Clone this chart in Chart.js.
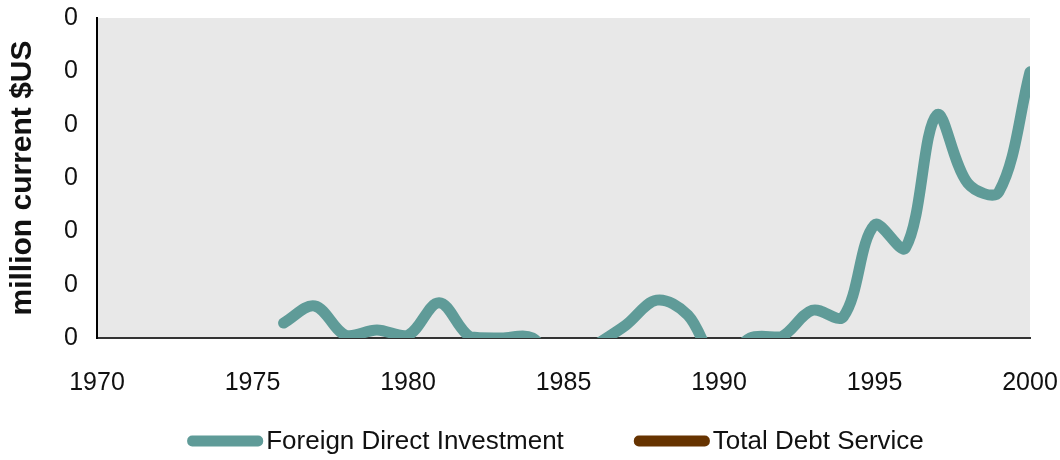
<!DOCTYPE html>
<html>
<head>
<meta charset="utf-8">
<script src="https://cdn.jsdelivr.net/npm/chart.js@4.4.0/dist/chart.umd.min.js"></script>
<style>
  body { margin: 0; background: #fff; }
  #wrap { width: 1060px; height: 460px; }
</style>
</head>
<body>
<div id="wrap"><canvas id="fdiChart" width="1060" height="460"></canvas></div>
<script>
// datos
const years = [1970, 1971, 1972, 1973, 1974, 1975, 1976, 1977, 1978, 1979, 1980,
    1981, 1982, 1983, 1984, 1985, 1986, 1987, 1988, 1989, 1990,
    1991, 1992, 1993, 1994, 1995, 1996, 1997, 1998, 1999, 2000];
const fdiValues = [null, null, null, null, null, null, 0.28, 0.6, 0.05, 0.15, 0.05,
    0.66, 0.02, 0.0, 0.0, -0.6, -0.15, 0.24, 0.71, 0.43, -0.5,
    0.0, 0.02, 0.52, 0.4, 2.12, 1.69, 4.18, 2.9, 2.74, 4.99];
const debtValues = years.map(function() { return null; });
const seriesNames = ['Foreign Direct Investment', 'Total Debt Service'];
const xTicks = [1970, 1975, 1980, 1985, 1990, 1995, 2000];
const yTickLabel = '0';

function toPoints(values) {
    return years.map(function(year, i) { return { x: year, y: values[i] }; });
}

Chart.defaults.font.family = '"Liberation Sans", Arial, sans-serif';
Chart.defaults.color = '#111';

// fondo gris del area del grafico
const plotBackground = {
    id: 'plotBackground',
    beforeDraw: function(chart) {
        const area = chart.chartArea;
        const ctx = chart.ctx;
        ctx.save();
        ctx.fillStyle = '#E8E8E8';
        ctx.fillRect(area.left, area.top, area.right - area.left, area.bottom - area.top);
        ctx.restore();
    }
};

// leyenda abajo, dibujada a mano para controlar los espacios
const bottomLegend = {
    id: 'bottomLegend',
    afterDraw: function(chart) {
        const ctx = chart.ctx;
        const area = chart.chartArea;
        const sets = chart.data.datasets;
        const swatchW = 76, swatchH = 11, textGap = 3, itemGap = 70;
        const y = chart.height - 19;
        ctx.save();
        ctx.font = '26px "Liberation Sans", Arial, sans-serif';
        ctx.textBaseline = 'middle';
        ctx.textAlign = 'left';
        let total = 0;
        const widths = sets.map(function(ds) {
            const w = swatchW + textGap + ctx.measureText(ds.label).width;
            total += w;
            return w;
        });
        total += itemGap * (sets.length - 1);
        let x = (area.left + area.right) / 2 - 8 - total / 2;
        sets.forEach(function(ds, i) {
            ctx.fillStyle = ds.borderColor;
            ctx.beginPath();
            ctx.roundRect(x, y - swatchH / 2, swatchW, swatchH, 5);
            ctx.fill();
            ctx.fillStyle = '#111';
            ctx.fillText(ds.label, x + swatchW + textGap, y + 1);
            x += widths[i] + itemGap;
        });
        ctx.restore();
    }
};

const ctx = document.getElementById('fdiChart').getContext('2d');

const fdiChart = new Chart(ctx, {
    type: 'line',
    data: {
        datasets: [{
            label: seriesNames[0],
            data: toPoints(fdiValues),
            borderColor: '#5F9B98',
            backgroundColor: '#5F9B98',
            borderWidth: 11,
            borderCapStyle: 'round',
            borderJoinStyle: 'round',
            tension: 0.35,
            pointRadius: 0,
            spanGaps: false,
            clip: { left: 0, top: 10, right: 0, bottom: 0 }
        }, {
            label: seriesNames[1],
            data: toPoints(debtValues),
            borderColor: '#663300',
            backgroundColor: '#663300',
            borderWidth: 11,
            pointRadius: 0
        }]
    },
    options: {
        responsive: false,
        animation: false,
        layout: { autoPadding: false, padding: { top: 0, right: 0, bottom: 64 } },
        scales: {
            x: {
                type: 'linear',
                min: 1970,
                max: 2000,
                afterBuildTicks: function(scale) {
                    scale.ticks = xTicks.map(function(v) { return { value: v }; });
                },
                afterFit: function(scale) {
                    scale.height = 58;
                    scale.paddingLeft = 0;
                    scale.paddingRight = 30;
                },
                grid: { display: false, drawTicks: false },
                border: { display: true, color: '#333', width: 2 },
                ticks: {
                    padding: 30,
                    maxRotation: 0,
                    autoSkip: false,
                    font: { size: 25 },
                    color: '#111',
                    callback: function(v) { return String(v); }
                }
            },
            y: {
                min: 0,
                max: 6,
                afterFit: function(scale) {
                    scale.width = 97;
                    scale.paddingTop = 18;
                    scale.paddingBottom = 0;
                },
                grid: { display: false, drawTicks: false },
                border: { display: true, color: '#000', width: 2 },
                ticks: {
                    stepSize: 1,
                    padding: 19,
                    font: { size: 25 },
                    color: '#111',
                    callback: function() { return yTickLabel; }
                },
                title: {
                    display: true,
                    text: 'million current $US',
                    font: { size: 30, weight: 'bold' },
                    color: '#111',
                    padding: { top: 5, bottom: 4 }
                }
            }
        },
        plugins: {
            tooltip: { enabled: false },
            legend: { display: false }
        }
    },
    plugins: [plotBackground, bottomLegend]
});
</script>
</body>
</html>
